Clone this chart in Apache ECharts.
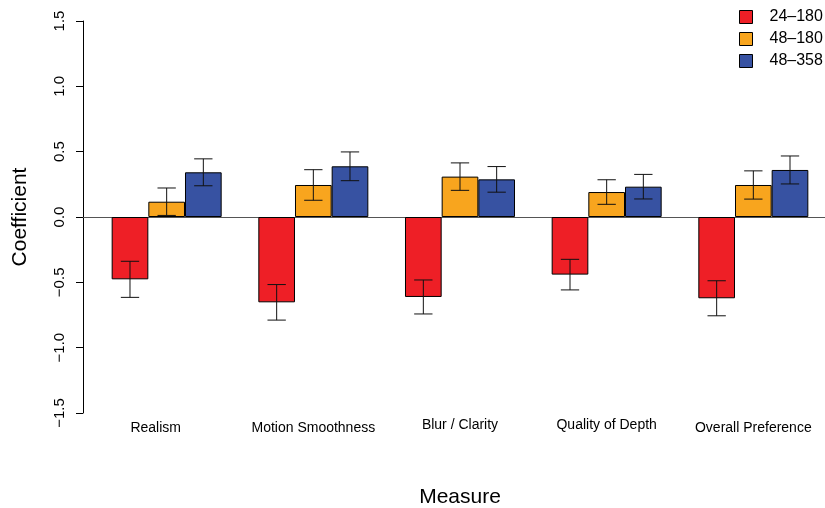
<!DOCTYPE html>
<html>
<head>
<meta charset="utf-8">
<script src="https://cdn.jsdelivr.net/npm/echarts@6/dist/echarts.min.js"></script>
<style>html,body{margin:0;padding:0;background:#fff;}#c{width:825px;height:508px;}</style>
</head>
<body>
<div id="c"></div>
<script>
const categories = ['Realism', 'Motion Smoothness', 'Blur / Clarity', 'Quality of Depth', 'Overall Preference'];
const seriesNames = ['24–180', '48–180', '48–358'];
const red = [-0.477, -0.653, -0.612, -0.441, -0.622];
const redErr = [0.138, 0.136, 0.130, 0.117, 0.134];
const orange = [0.117, 0.245, 0.309, 0.191, 0.245];
const orangeErr = [0.105, 0.117, 0.105, 0.094, 0.108];
const blue = [0.342, 0.388, 0.288, 0.232, 0.360];
const blueErr = [0.103, 0.110, 0.098, 0.094, 0.107];
const yTicks = [-1.5, -1.0, -0.5, 0.0, 0.5, 1.0, 1.5];

const colors = ['#EE1F26', '#F8A51E', '#3752A2'];
const values = [red, orange, blue];
const errs = [redErr, orangeErr, blueErr];
const FONT = '"Liberation Sans", Arial, Helvetica, sans-serif';

const chart = echarts.init(document.getElementById('c'), null, {renderer: 'canvas'});

const catData = categories.map((c, i) => {
  let pad = [4, 0, 0, 0];
  if (i === 0) pad = [4, 22, 0, 0];
  if (i === 2 || i === 3) pad = [1, 0, 0, 0];
  return {value: c, textStyle: {padding: pad}};
});

const series = [];
values.forEach((vals, k) => {
  series.push({
    name: seriesNames[k], type: 'bar', xAxisIndex: 0, yAxisIndex: 0,
    data: vals, barWidth: '25%', barGap: '0%',
    itemStyle: {color: colors[k], borderColor: '#000', borderWidth: 1},
    emphasis: {disabled: true}, z: 2
  });
});
values.forEach((vals, k) => {
  series.push({
    name: 'err' + k, type: 'custom', xAxisIndex: 0, yAxisIndex: 0, z: 5,
    data: vals.map((v, i) => [i, v, errs[k][i]]),
    encode: {x: 0, y: 1},
    renderItem: function (params, api) {
      const ci = api.value(0), v = api.value(1), e = api.value(2);
      const band = api.size([1, 0])[0];
      const off = (k - 1) * band / 4;
      const top = api.coord([ci, v + e]);
      const bot = api.coord([ci, v - e]);
      const x = top[0] + off;
      const cap = band / 16;
      const st = {stroke: '#111', lineWidth: 1};
      return {type: 'group', children: [
        {type: 'line', shape: {x1: x, y1: top[1], x2: x, y2: bot[1]}, style: st},
        {type: 'line', shape: {x1: x - cap, y1: top[1], x2: x + cap, y2: top[1]}, style: st},
        {type: 'line', shape: {x1: x - cap, y1: bot[1], x2: x + cap, y2: bot[1]}, style: st}
      ]};
    }
  });
});

chart.setOption({
  animation: false,
  textStyle: {fontFamily: FONT},
  legend: {
    data: seriesNames, orient: 'vertical', left: 734, top: 4,
    itemWidth: 13, itemHeight: 13, itemGap: 6, icon: 'rect',
    itemStyle: {borderColor: '#000', borderWidth: 1},
    textStyle: {fontFamily: FONT, fontSize: 16, color: '#000', lineHeight: 16, padding: [0, 0, 0, 12]},
    selectedMode: false
  },
  grid: [
    {left: 93.33, right: -1.67, top: 21, bottom: 95, containLabel: false, outerBoundsMode: 'none'},
    {left: 83, right: 0, top: 21, bottom: 95, containLabel: false, outerBoundsMode: 'none'}
  ],
  xAxis: [
    {
      type: 'category', gridIndex: 0, data: catData,
      axisLine: {show: false, onZero: false}, axisTick: {show: false},
      axisLabel: {fontFamily: FONT, fontSize: 14, color: '#000', margin: 4, interval: 0},
      name: 'Measure', nameLocation: 'middle', nameGap: 74,
      nameTextStyle: {fontFamily: FONT, fontSize: 21, color: '#000'}
    },
    {
      type: 'value', gridIndex: 1, min: 0, max: 1,
      axisLine: {show: true, onZero: true, lineStyle: {color: '#555', width: 1}},
      axisTick: {show: false}, axisLabel: {show: false}, splitLine: {show: false}
    }
  ],
  yAxis: [
    {type: 'value', gridIndex: 0, min: -1.5, max: 1.5, interval: 0.5, show: false},
    {
      type: 'value', gridIndex: 1, min: -1.5, max: 1.5, interval: 0.5,
      axisLine: {show: true, lineStyle: {color: '#000', width: 1}},
      axisTick: {show: true, inside: false, length: 7, lineStyle: {color: '#000'}},
      splitLine: {show: false},
      axisLabel: {
        rotate: 90, margin: 16, fontFamily: FONT, fontSize: 15, color: '#000',
        formatter: v => {
          const t = yTicks.find(x => Math.abs(x - v) < 1e-9);
          const s = (t === undefined ? v : t).toFixed(1);
          return s.replace('-', '\u2212');
        }
      },
      name: 'Coefficient', nameLocation: 'middle', nameRotate: 90, nameGap: 52,
      nameTextStyle: {fontFamily: FONT, fontSize: 21, color: '#000'}
    }
  ],
  series: series
});
</script>
</body>
</html>
